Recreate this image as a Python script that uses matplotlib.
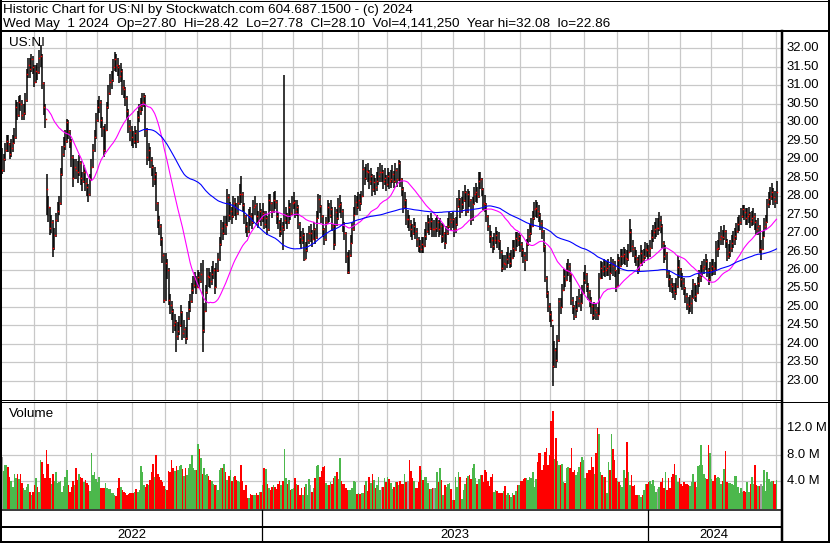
import numpy as np
import pandas as pd
import matplotlib
matplotlib.use("Agg")
import matplotlib.pyplot as plt
import matplotlib.transforms as mtransforms
from matplotlib.lines import Line2D

plt.rcParams['font.family'] = ['Liberation Sans', 'DejaVu Sans']

# NYSE holidays inside the chart window
holidays = ['2022-05-30', '2022-06-20', '2022-07-04', '2022-09-05', '2022-11-24',
            '2022-12-26', '2023-01-02', '2023-01-16', '2023-02-20', '2023-04-07',
            '2023-05-29', '2023-06-19', '2023-07-04', '2023-09-04', '2023-11-23',
            '2023-12-25', '2024-01-01', '2024-01-15', '2024-02-19', '2024-03-29']

# daily closes
close = [
    28.70, 29.00, 29.25, 29.50, 29.40, 29.15, 29.30, 29.45, 29.60, 30.40,
    30.20, 30.55, 30.50, 30.20, 30.25, 30.60, 31.30, 31.55, 31.45, 31.70,
    31.50, 31.10, 31.40, 31.35, 31.75, 31.80, 31.05, 30.40, 30.10, 28.20,
    27.70, 27.15, 27.30, 26.60, 26.95, 27.35, 27.60, 27.80, 28.60, 29.15,
    29.35, 29.50, 30.00, 29.75, 29.50, 29.05, 28.50, 28.80, 28.70, 28.65,
    28.90, 28.50, 28.40, 28.65, 28.35, 28.25, 28.07, 28.45, 28.80, 29.25,
    29.60, 30.05, 30.40, 30.55, 30.05, 29.85, 29.25, 29.80, 30.40, 30.80,
    31.10, 31.15, 31.50, 31.70, 31.55, 31.50, 31.25, 31.40, 30.95, 30.90,
    30.65, 30.30, 29.90, 29.80, 29.60, 29.50, 29.70, 29.50, 30.15, 30.30,
    30.45, 30.55, 30.70, 29.80, 29.05, 29.25, 28.97, 28.80, 28.45, 28.60,
    27.80, 27.35, 27.20, 26.85, 26.40, 25.20, 26.20, 26.00, 25.20, 25.05,
    24.90, 24.50, 24.60, 24.20, 24.35, 24.50, 24.85, 24.30, 24.40, 24.15,
    24.70, 24.95, 25.15, 25.45, 25.60, 25.75, 25.55, 25.80, 25.70, 25.90,
    24.37, 24.90, 25.40, 25.85, 25.80, 25.70, 25.90, 26.00, 25.55, 26.00,
    26.30, 26.70, 27.15, 27.00, 27.25, 27.20, 27.98, 27.50, 27.60, 27.45,
    27.80, 27.70, 27.55, 27.80, 28.07, 28.05, 27.76, 27.45, 27.20, 27.05,
    27.50, 27.45, 27.30, 27.70, 27.75, 27.45, 27.35, 27.60, 27.40, 27.55,
    27.25, 27.40, 27.10, 27.90, 27.80, 27.60, 27.90, 27.85, 27.45, 27.30,
    27.05, 27.20, 27.10, 27.36, 27.50, 27.30, 27.70, 27.55, 27.80, 27.85,
    27.60, 27.70, 27.25, 26.90, 26.80, 26.95, 26.30, 26.55, 26.80, 27.00,
    27.00, 26.83, 27.10, 26.90, 27.40, 27.92, 27.74, 27.47, 27.10, 26.83,
    27.29, 27.70, 27.50, 27.65, 27.20, 26.70, 27.56, 27.40, 27.74, 27.78,
    27.60, 27.24, 27.00, 26.38, 25.95, 26.40, 26.74, 27.10, 27.50, 27.83,
    27.70, 27.90, 27.80, 28.00, 28.73, 28.50, 28.68, 28.64, 28.40, 28.55,
    28.19, 28.37, 28.24, 28.40, 28.55, 28.64, 28.64, 28.40, 28.50, 28.33,
    28.55, 28.40, 28.46, 28.60, 28.42, 28.70, 28.46, 28.90, 28.46, 28.19,
    27.74, 27.90, 27.38, 27.38, 27.25, 27.10, 27.00, 27.20, 27.05, 26.83,
    26.65, 26.56, 26.70, 26.65, 26.92, 27.05, 27.29, 27.15, 27.33, 27.10,
    27.10, 27.15, 27.29, 27.10, 27.20, 26.92, 27.00, 26.73, 27.00, 27.20,
    27.38, 27.29, 27.38, 27.10, 27.24, 27.74, 27.92, 27.60, 27.78, 27.90,
    28.10, 27.60, 28.05, 27.90, 27.37, 27.78, 28.05, 28.10, 28.00, 28.40,
    28.45, 28.20, 27.82, 27.78, 27.46, 27.20, 26.92, 26.80, 26.65, 26.80,
    26.96, 26.80, 26.78, 26.50, 26.05, 26.20, 26.15, 26.30, 26.37, 26.20,
    26.33, 26.60, 26.55, 26.87, 26.82, 26.91, 26.70, 26.55, 26.40, 26.28,
    26.70, 26.91, 27.00, 27.20, 27.41, 27.64, 27.69, 27.60, 27.50, 27.28,
    27.05, 26.64, 25.78, 25.38, 25.02, 24.80, 24.65, 23.40, 23.84, 23.55,
    24.10, 25.15, 25.00, 25.47, 25.83, 25.74, 26.00, 26.10, 25.88, 25.20,
    25.02, 24.75, 24.95, 25.10, 25.24, 25.10, 25.38, 25.74, 25.88, 25.56,
    25.40, 25.20, 25.02, 24.79, 24.93, 24.85, 24.79, 25.78, 26.05, 25.96,
    26.10, 26.00, 26.05, 26.10, 25.92, 26.19, 26.10, 26.00, 25.56, 26.28,
    26.10, 26.37, 26.38, 26.42, 26.33, 26.29, 26.50, 27.04, 26.65, 26.56,
    26.38, 26.30, 26.00, 26.20, 26.47, 26.30, 26.38, 26.56, 26.54, 26.47,
    26.60, 26.88, 27.02, 27.10, 27.15, 27.15, 27.36, 27.20, 26.74, 26.38,
    26.47, 25.93, 25.75, 25.61, 25.57, 25.45, 25.39, 25.57, 26.07, 26.03,
    25.75, 25.66, 25.52, 25.30, 25.07, 25.02, 25.11, 25.25, 25.61, 25.30,
    25.39, 25.66, 25.80, 25.93, 26.05, 26.10, 26.24, 26.01, 25.75, 26.01,
    26.10, 26.06, 26.01, 26.58, 26.60, 26.83, 26.93, 26.88, 27.06, 26.79,
    26.38, 26.50, 26.60, 26.74, 26.85, 26.93, 27.06, 27.24, 27.30, 27.47,
    27.65, 27.56, 27.42, 27.47, 27.51, 27.33, 27.40, 27.47, 27.29, 27.10,
    27.20, 26.56, 26.56, 26.90, 27.20, 27.29, 27.78, 27.92, 28.00, 28.10,
    27.97, 27.88, 28.10,
]

# high above close, in cents
up_c = [
    60, 15, 20, 15, 25, 30, 25, 20, 25, 20,  35, 15, 25, 40, 25, 20, 15, 20, 30, 15,
    30, 45, 15, 25, 20, 28, 80, 70, 40, 40,  30, 55, 20, 75, 20, 20, 25, 20, 15, 20,
    25, 30, 10, 30, 30, 50, 60, 20, 30, 30,  20, 45, 25, 20, 35, 25, 25, 15, 20, 15,
    20, 20, 20, 15, 55, 30, 65, 15, 15, 20,  20, 25, 20, 20, 30, 25, 30, 20, 50, 25,
    30, 40, 45, 25, 30, 25, 20, 30, 15, 20,  20, 25, 10, 95, 80, 20, 35, 25, 40, 20,
    85, 50, 25, 40, 50, 125, 25, 30, 85, 30,  25, 45, 20, 45, 25, 25, 20, 60, 25, 30,
    15, 20, 20, 20, 25, 20, 30, 20, 25, 30,  190, 20, 20, 20, 25, 25, 20, 25, 50, 20,
    15, 20, 20, 30, 20, 25, 20, 55, 25, 25,  20, 25, 25, 20, 25, 50, 35, 35, 30, 25,
    15, 25, 25, 20, 25, 35, 25, 20, 25, 25,  35, 20, 35, 15, 25, 25, 20, 30, 45, 25,
    30, 20, 20, 391, 20, 25, 20, 25, 20, 25,  30, 20, 50, 40, 25, 20, 70, 20, 20, 20,
    25, 25, 20, 25, 20, 15, 30, 30, 40, 30,  15, 20, 30, 25, 50, 55, 15, 25, 20, 25,
    25, 40, 30, 65, 55, 15, 20, 20, 20, 20,  30, 20, 25, 15, 25, 30, 20, 25, 30, 20,
    40, 20, 25, 25, 25, 25, 20, 30, 25, 25,  20, 25, 25, 25, 25, 20, 30, 8, 50, 30,
    50, 20, 55, 25, 25, 25, 25, 20, 25, 30,  25, 25, 20, 25, 20, 25, 20, 25, 20, 30,
    25, 25, 20, 25, 20, 35, 25, 30, 20, 20,  20, 25, 20, 30, 20, 20, 25, 35, 20, 25,
    20, 55, 15, 25, 55, 20, 20, 25, 25, 26,  20, 30, 40, 25, 35, 30, 30, 25, 25, 20,
    20, 25, 25, 30, 50, 20, 25, 20, 25, 25,  20, 20, 25, 15, 20, 10, 25, 20, 20, 20,
    15, 20, 25, 20, 20, 20, 20, 25, 25, 25,  30, 45, 90, 45, 40, 30, 25, 110, 25, 35,
    15, 10, 25, 15, 20, 25, 20, 20, 30, 70,  25, 30, 20, 20, 25, 25, 20, 20, 25, 35,
    25, 25, 25, 30, 20, 25, 20, 15, 20, 25,  20, 25, 20, 20, 25, 15, 20, 25, 45, 15,
    25, 20, 20, 20, 25, 25, 20, 35, 45, 25,  25, 25, 35, 20, 20, 25, 20, 20, 20, 20,
    20, 20, 20, 20, 25, 25, 20, 25, 50, 40,  20, 55, 25, 25, 20, 20, 25, 20, 30, 25,
    30, 25, 25, 25, 30, 25, 20, 20, 15, 35,  20, 15, 20, 20, 20, 20, 20, 30, 30, 20,
    20, 25, 20, 20, 20, 20, 25, 20, 15, 30,  45, 20, 20, 20, 20, 20, 20, 20, 20, 20,
    10, 20, 25, 20, 20, 25, 20, 20, 25, 25,  20, 65, 25, 15, 20, 20, 15, 20, 25, 25,
    25, 25, 32,
]

# low below close, in cents
dn_c = [
    10, 35, 30, 30, 20, 15, 25, 25, 20, 85,  15, 40, 20, 15, 20, 40, 75, 35, 25, 35,
    20, 15, 35, 20, 45, 30, 15, 20, 25, 70,  40, 20, 30, 25, 40, 45, 30, 30, 85, 60,
    30, 25, 55, 20, 20, 25, 25, 35, 25, 30,  35, 20, 25, 30, 20, 25, 22, 45, 40, 50,
    40, 50, 40, 30, 20, 25, 20, 60, 65, 45,  35, 25, 40, 30, 20, 25, 20, 30, 20, 25,
    20, 20, 20, 30, 25, 20, 30, 20, 70, 30,  25, 25, 30, 20, 20, 30, 20, 25, 20, 30,
    20, 20, 25, 20, 20, 10, 105, 25, 15, 25,  25, 20, 25, 43, 25, 25, 40, 20, 25, 15,
    60, 30, 30, 35, 25, 25, 20, 30, 20, 25,  60, 60, 55, 50, 25, 20, 30, 25, 20, 50,
    35, 45, 50, 20, 30, 25, 80, 20, 25, 20,  40, 25, 20, 30, 30, 25, 20, 20, 20, 15,
    50, 25, 20, 45, 25, 20, 20, 30, 20, 25,  15, 25, 15, 85, 20, 20, 35, 20, 20, 20,
    15, 25, 55, 30, 25, 20, 45, 20, 30, 20,  20, 25, 15, 20, 20, 25, 5, 25, 30, 30,
    25, 20, 30, 20, 55, 55, 20, 20, 20, 15,  50, 45, 20, 25, 15, 15, 90, 20, 40, 25,
    20, 20, 20, 20, 5, 50, 40, 40, 45, 35,  20, 25, 20, 25, 75, 20, 25, 25, 20, 25,
    20, 25, 20, 25, 25, 25, 25, 20, 20, 20,  30, 20, 25, 25, 20, 35, 20, 50, 20, 20,
    20, 25, 15, 25, 20, 20, 20, 25, 20, 20,  15, 10, 25, 20, 30, 25, 30, 20, 25, 20,
    20, 25, 25, 20, 25, 20, 25, 15, 30, 25,  25, 20, 25, 20, 25, 55, 25, 20, 25, 25,
    25, 15, 50, 20, 15, 45, 30, 25, 20, 45,  25, 20, 20, 20, 15, 15, 20, 20, 20, 25,
    25, 20, 25, 20, 10, 20, 15, 25, 20, 15,  25, 30, 20, 35, 20, 25, 20, 20, 20, 30,
    45, 25, 25, 25, 25, 30, 25, 20, 20, 20,  20, 15, 10, 15, 15, 20, 20, 54, 50, 20,
    60, 110, 20, 50, 40, 20, 30, 25, 20, 15,  20, 10, 25, 25, 25, 20, 30, 40, 25, 15,
    20, 20, 20, 15, 25, 20, 15, 100, 30, 20,  25, 20, 20, 25, 20, 30, 25, 20, 15, 75,
    20, 30, 25, 25, 20, 20, 25, 55, 15, 20,  20, 20, 10, 25, 30, 20, 20, 25, 20, 20,
    25, 30, 25, 25, 25, 20, 30, 20, 15, 20,  20, 15, 20, 20, 20, 20, 20, 25, 55, 25,
    20, 20, 20, 20, 15, 20, 25, 45, 40, 15,  25, 30, 25, 25, 25, 20, 25, 20, 15, 30,
    25, 20, 15, 60, 25, 30, 25, 20, 25, 20,  15, 20, 25, 25, 25, 25, 25, 25, 25, 25,
    25, 20, 20, 25, 25, 20, 20, 25, 20, 15,  25, 10, 30, 35, 30, 20, 50, 25, 25, 20,
    20, 20, 32,
]

# daily volume, millions of shares
volume = [
    7.7, 5.5, 6.4, 6.4, 6.1, 4.6, 3.9, 3.1, 5.1, 4.4,  5.0, 4.2, 5.1, 3.6, 2.9, 2.6, 3.0, 3.5, 2.3, 1.8,
    2.3, 3.4, 4.4, 3.0, 2.3, 7.2, 6.9, 5.1, 4.4, 8.7,  6.6, 4.5, 3.5, 5.1, 4.0, 5.3, 3.6, 3.8, 4.0, 2.3,
    3.2, 4.6, 5.6, 3.4, 2.3, 3.0, 4.0, 3.4, 5.9, 4.1,  5.0, 4.6, 4.4, 3.8, 4.1, 3.6, 3.4, 2.4, 8.3, 4.9,
    5.3, 4.2, 3.8, 4.6, 2.9, 2.9, 2.9, 3.6, 2.9, 2.7,  2.7, 2.1, 2.1, 1.8, 1.7, 2.9, 4.4, 3.1, 2.6, 2.3,
    2.2, 1.8, 2.0, 2.1, 2.1, 2.1, 2.3, 2.7, 2.3, 2.6,  6.2, 5.3, 3.4, 3.1, 3.5, 3.4, 4.1, 5.3, 6.5, 4.6,
    7.9, 5.0, 4.6, 4.1, 3.8, 3.2, 2.7, 2.6, 5.5, 5.3,  7.2, 6.0, 5.5, 6.3, 5.6, 6.3, 6.4, 5.8, 4.7, 5.9,
    4.9, 5.9, 6.5, 7.9, 5.9, 5.7, 5.6, 9.6, 8.8, 7.5,  5.0, 6.0, 4.9, 5.0, 4.7, 4.1, 3.9, 3.5, 3.4, 3.4,
    2.6, 5.6, 6.0, 6.0, 6.6, 5.3, 4.1, 4.8, 5.6, 3.9,  4.6, 4.7, 4.1, 3.9, 3.8, 6.4, 3.9, 2.6, 3.4, 1.4,
    1.3, 2.0, 1.8, 1.8, 1.8, 2.1, 1.8, 2.3, 2.3, 3.4,  6.0, 5.8, 3.5, 2.9, 2.6, 3.0, 3.4, 3.1, 2.8, 3.5,
    3.9, 3.3, 4.0, 8.8, 4.5, 3.5, 4.1, 2.6, 2.7, 2.9,  4.4, 3.5, 3.4, 1.8, 2.9, 1.8, 3.1, 3.5, 1.8, 4.3,
    3.4, 2.3, 2.9, 4.5, 6.3, 6.4, 4.6, 5.5, 6.1, 6.3,  3.6, 3.4, 3.3, 3.8, 3.5, 4.5, 4.7, 5.3, 4.3, 7.5,
    3.9, 3.5, 3.5, 2.9, 2.6, 2.6, 2.6, 2.9, 3.9, 3.8,  2.0, 2.2, 2.0, 2.1, 2.2, 3.4, 4.0, 2.4, 4.6, 3.6,
    5.1, 4.1, 2.9, 3.4, 4.6, 2.6, 3.0, 3.1, 4.4, 3.8,  4.6, 4.3, 3.6, 2.75, 3.1, 3.8, 3.8, 3.4, 4.0, 3.5,
    3.5, 5.0, 3.8, 4.0,
    7.2, 5.5, 4.4, 3.9, 2.85, 2.85, 3.8, 6.3, 5.6, 4.1,  4.6, 4.6, 3.6, 2.7, 2.7, 2.85, 2.9, 2.85, 5.3, 3.8,
    5.9, 4.1, 1.9, 3.35, 3.0, 3.5, 3.6, 2.75, 1.05, 1.05,  4.6, 3.1, 5.3, 4.6, 1.2, 2.6, 3.5, 4.4, 4.8, 4.9,
    4.3, 6.0, 6.6, 4.5, 3.5, 4.2, 4.9, 4.9, 3.75, 5.6,  5.4, 4.0, 3.25, 4.6, 5.0, 2.35, 2.6, 2.4, 2.1, 2.2,
    2.1, 2.4, 3.25, 1.8, 2.1, 1.9, 1.6, 2.1, 1.8, 2.5,  3.35, 3.35, 3.95, 3.95, 4.25, 4.5, 4.5, 4.1, 4.6, 4.5,
    5.4, 3.1, 4.25, 6.9, 8.2, 8.3, 5.6, 6.4, 8.4, 9.0,  6.4, 8.0, 13.1, 14.6, 7.3, 10.5, 7.0, 6.4, 6.4, 6.5,
    3.75, 3.6, 5.9, 6.1, 6.0, 9.0, 5.3, 5.6, 4.95, 5.3,  6.1, 6.9, 7.6, 7.2, 4.5, 5.15, 5.6, 5.6, 7.7, 6.1,
    5.0, 8.3, 12.0, 11.1, 5.4, 4.9, 4.6, 4.6, 2.1, 6.9,  5.6, 11.1, 8.8, 7.2, 4.4, 3.95, 3.85, 3.35, 3.1, 5.6,
    4.5, 9.85, 5.3, 3.35, 4.95, 3.25, 3.35, 1.8, 1.8, 1.8,  1.6, 1.8, 2.6, 3.45, 3.45, 3.75, 3.95, 3.45, 4.1, 3.25,
    2.35, 2.75, 3.0, 3.75, 4.4, 2.85, 5.3, 2.6, 4.4, 2.85,  4.6, 5.0, 6.6, 4.9, 3.75, 4.4, 3.45, 3.25, 3.75, 3.45,
    3.45, 3.3, 3.25, 3.85, 5.1, 3.75, 3.1, 6.3, 6.4, 9.5,  6.4, 5.0, 4.4, 4.3, 9.5, 8.2, 4.3, 3.95, 4.9, 4.5,
    4.6, 4.4, 3.45, 4.0, 5.8, 8.5, 3.75, 3.6, 3.6, 3.45,  3.35, 4.8, 4.8, 3.0, 2.1, 2.85, 2.25, 2.4, 2.35, 3.75,
    2.35, 3.45, 4.6, 3.5, 6.4, 3.35, 3.25, 3.25, 3.45, 3.25,  5.6, 2.4, 5.4, 4.3, 3.75, 3.9, 3.9, 3.5, 4.14,
]

price_ticks = np.arange(23.0, 32.01, 0.5)
vol_ticks = [4, 8, 12]
title1 = "Historic Chart for US:NI by Stockwatch.com 604.687.1500 - (c) 2024"
title2 = ("Wed May  1 2024  Op=27.80  Hi=28.42  Lo=27.78  Cl=28.10  "
          "Vol=4,141,250  Year hi=32.08  lo=22.86")

dates = pd.bdate_range('2022-05-02', '2024-05-01', freq='C', holidays=holidays)
n = len(dates)
x = np.arange(n)
close = np.array(close)
high = close + np.array(up_c) / 100
low = close - np.array(dn_c) / 100
vol = np.array(volume)

chg = np.diff(close, prepend=close[0])
vcol = np.where(chg > 0, '#4cb84c', np.where(chg < 0, '#ff0000', '#a0a0a0'))

ma30 = pd.Series(close).rolling(30).mean()
ma90 = pd.Series(close).rolling(90).mean()

month_start = [i for i in range(1, n) if dates[i].month != dates[i - 1].month]
year_start = [i for i in month_start if dates[i].month == 1]

W, H = 830, 543
fig = plt.figure(figsize=(W / 100, H / 100), dpi=100)
FS = 9.4
FS_TITLE = 9.7
GRID = '#c8c8c8'

def fx(px):
    return px / W

def fy(py):
    return 1 - py / H

ax = fig.add_axes([fx(1.5), fy(400), (781 - 1.5) / W, (400 - 31) / H])
axv = fig.add_axes([fx(1.5), fy(509), (781 - 1.5) / W, (509 - 403) / H])

xmin, xmax = -0.3, 504.9
for a in (ax, axv):
    a.set_xlim(xmin, xmax)
    a.set_xticks([m - 0.5 for m in month_start])
    a.tick_params(length=0, labelbottom=False, labelleft=False)
    for s in a.spines.values():
        s.set_visible(False)
    a.set_axisbelow(True)
    a.grid(True, color=GRID, lw=0.9)

# price panel
ax.set_ylim(22.48, 32.47)
ax.set_yticks(price_ticks)
ax.vlines(x, low, high, color='black', lw=1.1, zorder=3)
ax.plot(x + 0.3, close, 's', ms=1.05, mew=0, color='#ff0000', zorder=3.5)
ax.plot(x, ma30, color='#ff00ff', lw=0.8, zorder=4)
ax.plot(x, ma90, color='#0000ff', lw=0.8, zorder=4)
for t in price_ticks:
    ax.text(1.0068, t, f"{t:.2f}", transform=ax.get_yaxis_transform(),
            ha='left', va='center', fontsize=FS, clip_on=False)
fig.text(fx(8.5), fy(46), "US:NI", fontsize=FS_TITLE, va='baseline')

# volume panel
axv.set_ylim(-0.305, 15.88)
axv.set_yticks(vol_ticks)
axv.bar(x, vol + 0.305, bottom=-0.305, width=1.0, color=vcol, linewidth=0)
for t in vol_ticks:
    axv.text(1.0082, t, f"{t:.1f} M", transform=axv.get_yaxis_transform(),
             ha='left', va='center', fontsize=FS, clip_on=False)
fig.text(fx(9.3), fy(417), "Volume", fontsize=FS_TITLE, va='baseline')

# title block
fig.text(fx(3.3), fy(12.8), title1, fontsize=FS_TITLE, va='baseline')
fig.text(fx(3.3), fy(27), title2, fontsize=FS_TITLE, va='baseline')

# frame lines (pixel positions)
def hline(py, x0, x1, w):
    fig.add_artist(Line2D([fx(x0), fx(x1)], [fy(py), fy(py)], color='black',
                          lw=w * 0.72, transform=fig.transFigure))

def vline(px, y0, y1, w):
    fig.add_artist(Line2D([fx(px), fx(px)], [fy(y0), fy(y1)], color='black',
                          lw=w * 0.72, transform=fig.transFigure))

hline(0.5, 0, W, 1)
hline(31, 0, W, 2)
hline(400, 0, 781, 1)
hline(402, 0, W, 1)
hline(509.8, 0, 781, 1.5)
hline(527, 0, 781, 2)
hline(542, 0, W, 2)
vline(0.8, 0, H, 2)
vline(829, 0, H, 2)
vline(781.5, 31, H, 2.5)

# year band below the volume panel
bt = mtransforms.blended_transform_factory(ax.transData, fig.transFigure)
edges = [xmin] + [y - 0.5 for y in year_start] + [xmax]
for y in year_start:
    fig.add_artist(Line2D([y - 0.5, y - 0.5], [fy(509.8), fy(543)], color='black',
                          lw=0.9, transform=bt))
for k in range(len(edges) - 1):
    yr = dates[0].year + k
    fig.text((edges[k] + edges[k + 1]) / 2, fy(535), str(yr), transform=bt,
             ha='center', va='center', fontsize=FS)

fig.savefig('out.png', dpi=100)
